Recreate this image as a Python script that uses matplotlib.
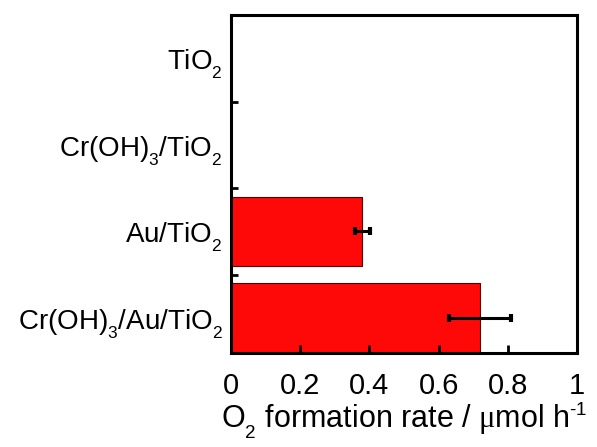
import numpy as np
import matplotlib
matplotlib.use('Agg')
import matplotlib.pyplot as plt
from matplotlib.ticker import FixedLocator
import matplotlib._mathtext as mt

plt.rcParams['font.family'] = 'Liberation Sans'
plt.rcParams['mathtext.fontset'] = 'custom'
plt.rcParams['mathtext.rm'] = 'Liberation Sans'
plt.rcParams['mathtext.it'] = 'Liberation Sans'
plt.rcParams['mathtext.sf'] = 'Liberation Serif'

# lower and shrink sub/superscripts a bit, like the original figure
mt.FontConstantsBase.sub1 = 0.65
mt.SHRINK_FACTOR = 0.62

#%% data (bottom to top)
samples = ['Cr(OH)$_3$/Au/TiO$_2$', 'Au/TiO$_2$', 'Cr(OH)$_3$/TiO$_2$', 'TiO$_2$']
rate = [0.72, 0.38, 0.0, 0.0]
err = [0.09, 0.022, 0.0, 0.0]
xticks = [0, 0.2, 0.4, 0.6, 0.8, 1]
xticklabels = ['0', '0.2', '0.4', '0.6', '0.8', '1']

fig = plt.figure(figsize=(5.97, 4.47), dpi=100)
ax = fig.add_axes([231/597, 1-353/447, 346/597, 338/447])

pos = np.arange(len(samples))
has_err = np.array(err) > 0
ax.barh(pos, rate, height=0.8, color='#ff0808', edgecolor='#500000', linewidth=0.8)
ax.errorbar(np.array(rate)[has_err], pos[has_err], xerr=np.array(err)[has_err],
            fmt='none', ecolor='black', elinewidth=2.2, capsize=3, capthick=3)

ax.set_xlim(0, 1)
ax.set_ylim(-0.405, 3.5)
ax.set_xticks(xticks)
ax.set_xticklabels(xticklabels)
ax.set_yticks(pos)
ax.set_yticklabels(samples)
ax.yaxis.set_minor_locator(FixedLocator([0.5, 1.5, 2.5]))

ax.tick_params(axis='x', direction='in', length=6, width=2, labelsize=21, pad=14)
ax.tick_params(axis='y', which='major', length=0, labelsize=20, pad=6)
ax.tick_params(axis='y', which='minor', direction='in', length=5, width=2)
for s in ax.spines.values():
    s.set_linewidth(2.2)

ax.set_xlabel('O$_2$ formation rate / $\\mathsf{μ}$mol h$^{\u2010 1}$', fontsize=22, labelpad=0)

fig.savefig('out.png', dpi=100)
